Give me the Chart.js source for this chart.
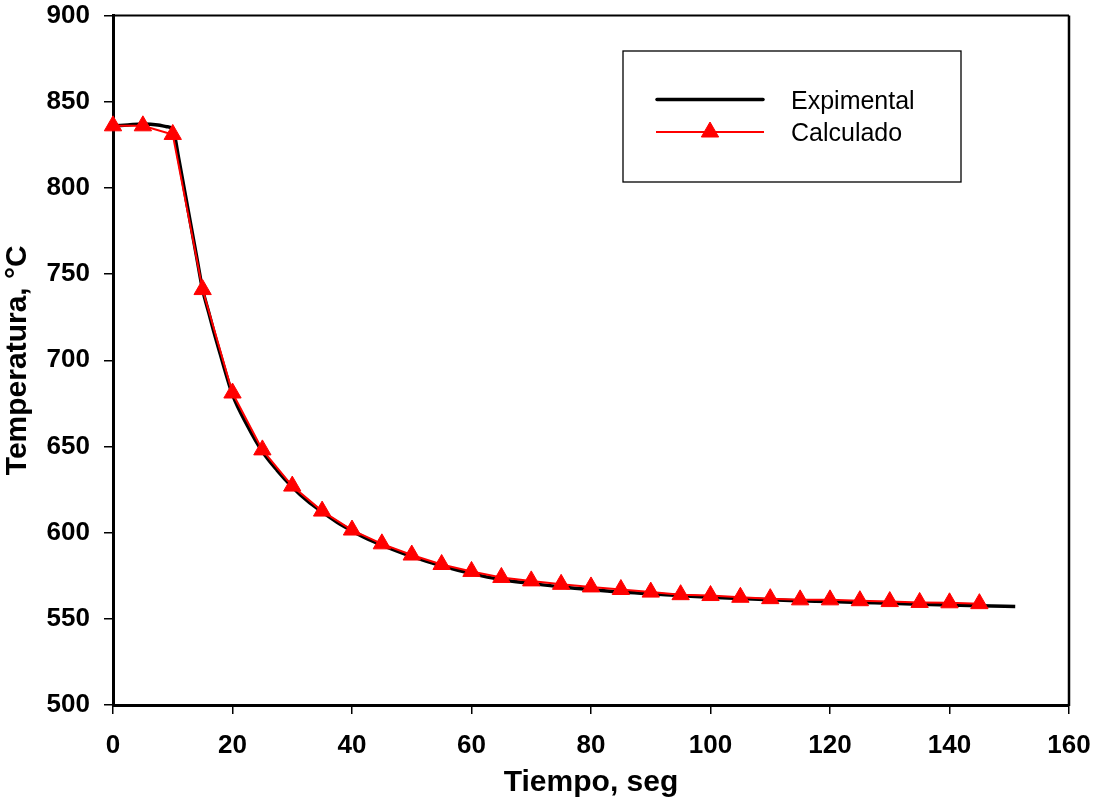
<!DOCTYPE html>
<html><head><meta charset="utf-8">
<script src="https://cdn.jsdelivr.net/npm/chart.js@4/dist/chart.umd.min.js"></script>
<style>html,body{margin:0;padding:0;background:#fff;overflow:hidden}#wrap{width:1099px;height:801px;position:relative}</style>
</head><body><div id="wrap"><canvas id="c" width="1099" height="801"></canvas></div>
<script>
const expTime = [0,2.5,5,7.5,9,10,11,12,13,14,15,16,17,18,19,20,22.5,25,27.5,30,32.5,35,37.5,40,42.5,45,50,55,60,65,70,75,80,85,90,95,100,105,110,115,120,125,130,135,140,145,151];
const expTemp = [836,836.5,837,836.5,835.5,834,817,798,779,760,741,728,715,703,691,680,662,647,636,626.5,618.5,612,606,601,596.5,592.8,586.2,580.7,576.2,572.7,570.5,568.5,567,565.5,564.5,563.5,562.5,561.8,561,560.5,560,559.5,559,558.5,558,557.6,557.2];
const calcTime = [0,5,10,15,20,25,30,35,40,45,50,55,60,65,70,75,80,85,90,95,100,105,110,115,120,125,130,135,140,145];
const calcTemp = [836,836,831,741,681,648,627,612.5,601.5,593.5,587,581.5,577.5,574,572,570,568.5,567,565.5,564,563.5,562.5,561.7,561,561,560.5,560,559.5,559.3,558.8];
const xTickValues = [0,20,40,60,80,100,120,140,160];
const yTickValues = [500,550,600,650,700,750,800,850,900];
const seriesNames = ['Expimental','Calculado'];
const xTitle = 'Tiempo, seg';
const yTitle = 'Temperatura, °C';

const FONT = '"Liberation Sans", Arial, Helvetica, sans-serif';

const expData = expTime.map((t,i)=>({x:t,y:expTemp[i]}));
const calcData = calcTime.map((t,i)=>({x:t,y:calcTemp[i]}));

function zeroPad(s){ s.paddingTop=0; s.paddingBottom=0; s.paddingLeft=0; s.paddingRight=0; }

const framePlugin = {
  id:'frame',
  afterDatasetsDraw(chart){
    const {ctx, chartArea:a} = chart;
    ctx.save();
    ctx.strokeStyle='#000';
    ctx.lineWidth=2;
    ctx.beginPath();
    ctx.moveTo(a.left, a.top); ctx.lineTo(a.right, a.top);
    ctx.stroke();
    ctx.lineWidth=2.5;
    ctx.beginPath();
    ctx.moveTo(a.right, a.top); ctx.lineTo(a.right, a.bottom+1);
    ctx.stroke();
    ctx.restore();
  }
};

const legendPlugin = {
  id:'boxLegend',
  afterDraw(chart){
    const {ctx} = chart;
    const ds = chart.data.datasets;
    const e = ds[1], c = ds[0];
    ctx.save();
    ctx.fillStyle='#fff';
    ctx.fillRect(623,51,338,131);
    ctx.strokeStyle='#000';
    ctx.lineWidth=1.3;
    ctx.strokeRect(623,51,338,131);
    ctx.lineCap='round';
    ctx.strokeStyle=e.borderColor; ctx.lineWidth=3.5;
    ctx.beginPath(); ctx.moveTo(657,99.5); ctx.lineTo(763,99.5); ctx.stroke();
    ctx.lineCap='butt';
    ctx.strokeStyle=c.borderColor; ctx.lineWidth=2;
    ctx.beginPath(); ctx.moveTo(656,132); ctx.lineTo(764,132); ctx.stroke();
    ctx.fillStyle=c.pointBackgroundColor; ctx.strokeStyle=c.pointBorderColor; ctx.lineWidth=1;
    ctx.beginPath();
    const r=10;
    ctx.moveTo(710,132-r); ctx.lineTo(710+r*Math.sin(2*Math.PI/3),132+r/2); ctx.lineTo(710-r*Math.sin(2*Math.PI/3),132+r/2); ctx.closePath();
    ctx.fill(); ctx.stroke();
    ctx.fillStyle='#000';
    ctx.font='25px '+FONT;
    ctx.textBaseline='alphabetic';
    ctx.textAlign='left';
    ctx.fillText(e.label,791,108.5);
    ctx.fillText(c.label,791,141);
    ctx.restore();
  }
};

new Chart(document.getElementById('c'),{
  type:'line',
  data:{datasets:[
    {label:seriesNames[1],data:calcData,borderColor:'#ff0000',backgroundColor:'#ff0000',borderWidth:2,
     pointStyle:'triangle',pointRadius:10,pointHoverRadius:10,pointBorderWidth:1,pointBackgroundColor:'#ff0000',pointBorderColor:'#ff0000',
     tension:0,clip:false,order:0},
    {label:seriesNames[0],data:expData,borderColor:'#000000',backgroundColor:'#000000',borderWidth:3.5,
     pointRadius:0,pointHoverRadius:0,cubicInterpolationMode:'monotone',clip:false,order:1}
  ]},
  options:{
    responsive:false,animation:false,
    layout:{padding:{left:0,right:30,top:15.5,bottom:0}},
    plugins:{legend:{display:false},tooltip:{enabled:false}},
    scales:{
      x:{type:'linear',min:0,max:160,
        afterBuildTicks:s=>{s.ticks=xTickValues.map(v=>({value:v}));},
        afterFit:s=>{s.height=96; zeroPad(s);},
        ticks:{color:'#000',font:{family:FONT,size:26,weight:'bold'},padding:16,maxRotation:0,autoSkip:false},
        grid:{drawOnChartArea:false,drawTicks:true,tickLength:9,color:'#000',lineWidth:1.5},
        border:{display:true,color:'#000',width:3},
        title:{display:true,text:xTitle,color:'#000',font:{family:FONT,size:30,weight:'bold'},padding:{top:0,bottom:0}}
      },
      y:{type:'linear',min:500,max:900,
        afterBuildTicks:s=>{s.ticks=yTickValues.map(v=>({value:v}));},
        afterFit:s=>{s.width=113; zeroPad(s);},
        ticks:{color:'#000',font:{family:FONT,size:26,weight:'bold'},padding:14,autoSkip:false},
        grid:{drawOnChartArea:false,drawTicks:true,tickLength:9,color:'#000',lineWidth:1.5},
        border:{display:true,color:'#000',width:3},
        title:{display:true,text:yTitle,color:'#000',font:{family:FONT,size:30,weight:'bold'},padding:{top:0,bottom:2}}
      }
    }
  },
  plugins:[framePlugin,legendPlugin]
});
</script></body></html>
